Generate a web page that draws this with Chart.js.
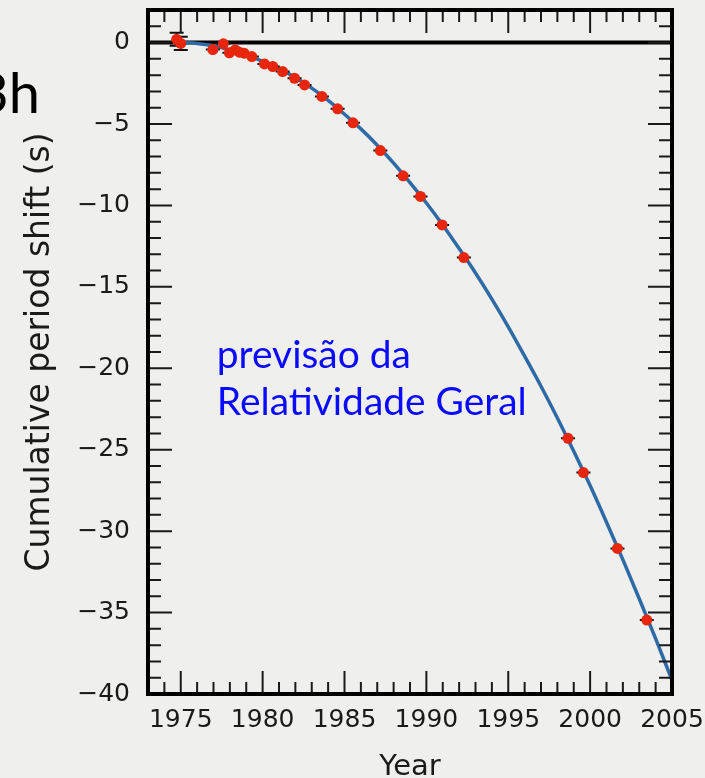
<!DOCTYPE html>
<html>
<head>
<meta charset="utf-8">
<script src="https://cdn.jsdelivr.net/npm/chart.js@4.4.1/dist/chart.umd.min.js"></script>
<style>
  html, body { margin: 0; padding: 0; background: #efefed; }
  #wrap { width: 705px; height: 778px; position: relative; }
</style>
</head>
<body>
<div id="wrap"><canvas id="myChart" width="705" height="778"></canvas></div>
<script>
// observed points (year, cumulative shift in s) and their error bars
const obsYears = [1974.75, 1975.0, 1976.96, 1977.6, 1977.97, 1978.32, 1978.58, 1978.87, 1979.34,
  1980.11, 1980.62, 1981.22, 1981.95, 1982.56, 1983.62, 1984.58, 1985.52, 1987.19,
  1988.58, 1989.64, 1990.96, 1992.29, 1998.65, 1999.59, 2001.67, 2003.46];
const obsShift = [0.2, -0.05, -0.43, -0.08, -0.63, -0.45, -0.59, -0.65, -0.86,
  -1.31, -1.47, -1.78, -2.19, -2.6, -3.31, -4.07, -4.93, -6.63,
  -8.18, -9.45, -11.2, -13.2, -24.3, -26.4, -31.06, -35.46];
const obsError = [0.4, 0.4, 0, 0, 0, 0, 0, 0, 0, 0, 0, 0, 0, 0, 0, 0, 0, 0, 0, 0, 0, 0, 0, 0, 0, 0];

// general relativity prediction curve
const curveYears = [1975, 1976, 1977, 1978, 1979, 1980, 1981, 1982, 1983, 1984, 1985, 1986, 1987,
  1988, 1989, 1990, 1991, 1992, 1993, 1994, 1995, 1996, 1997, 1998, 1999, 2000, 2001,
  2002, 2003, 2004, 2005];
const curveShift = [0, -0.05, -0.2, -0.45, -0.75, -1.15, -1.6, -2.15, -2.8, -3.55, -4.4, -5.3, -6.3,
  -7.4, -8.6, -9.85, -11.2, -12.65, -14.15, -15.75, -17.45, -19.25, -21.1, -23.05, -25.1, -27.2, -29.45,
  -31.75, -34.15, -36.6, -39.15];

const xTicks = [1975, 1980, 1985, 1990, 1995, 2000, 2005];
const yTicks = [-40, -35, -30, -25, -20, -15, -10, -5, 0];
const noteLines = ['previsão da', 'Relatividade Geral'];
const cornerText = '3h';

const ctx = document.getElementById('myChart').getContext('2d');
const axisFont = 'DejaVu Sans';
const ink = '#1a1a1a';

const framePlugin = {
  id: 'frame',
  beforeDatasetsDraw(chart) {
    const {ctx, chartArea: a, scales: {y}} = chart;
    const y0 = y.getPixelForValue(0);
    ctx.save();
    ctx.strokeStyle = '#000';
    ctx.lineWidth = 4;
    ctx.beginPath();
    ctx.moveTo(a.left, y0);
    ctx.lineTo(a.right, y0);
    ctx.stroke();
    ctx.restore();
  },
  afterDatasetDraw(chart, args) {
    if (args.index !== 0) return;
    const {ctx, scales: {x, y}} = chart;
    ctx.save();
    ctx.strokeStyle = '#111';
    ctx.lineWidth = 2;
    obsYears.forEach((yr, i) => {
      const px = x.getPixelForValue(yr);
      const top = y.getPixelForValue(obsShift[i] + obsError[i]);
      const bot = y.getPixelForValue(obsShift[i] - obsError[i]);
      ctx.beginPath();
      ctx.moveTo(px, top); ctx.lineTo(px, bot);
      ctx.moveTo(px - 7, top); ctx.lineTo(px + 7, top);
      ctx.moveTo(px - 7, bot); ctx.lineTo(px + 7, bot);
      ctx.stroke();
    });
    ctx.restore();
  },
  afterDatasetsDraw(chart) {
    const {ctx, chartArea: a, scales: {x, y}} = chart;
    ctx.save();
    ctx.strokeStyle = '#1a1a1a';
    ctx.lineWidth = 2;
    ctx.beginPath();
    for (let v = Math.ceil(x.min); v <= x.max; v++) {
      const px = x.getPixelForValue(v);
      const len = v % 5 === 0 ? 23 : 12;
      ctx.moveTo(px, a.bottom); ctx.lineTo(px, a.bottom - len);
      ctx.moveTo(px, a.top); ctx.lineTo(px, a.top + len);
    }
    for (let v = Math.ceil(y.min); v <= y.max; v++) {
      const py = y.getPixelForValue(v);
      const len = v % 5 === 0 ? 24 : 13;
      ctx.moveTo(a.left, py); ctx.lineTo(a.left + len, py);
      ctx.moveTo(a.right, py); ctx.lineTo(a.right - len, py);
    }
    ctx.stroke();
    ctx.strokeStyle = '#000';
    ctx.lineWidth = 4;
    ctx.strokeRect(a.left, a.top, a.right - a.left, a.bottom - a.top);
    ctx.restore();
  },
  afterDraw(chart) {
    const {ctx, scales: {x, y}} = chart;
    ctx.save();
    // annotation text
    ctx.fillStyle = '#0a0aff';
    ctx.textBaseline = 'alphabetic';
    ctx.textAlign = 'left';
    let size = 40;
    ctx.font = size + 'px Lato';
    const w = ctx.measureText(noteLines[1]).width;
    size = size * 310 / w;
    ctx.font = size + 'px Lato';
    const tx = x.getPixelForValue(1977.2);
    const ty = y.getPixelForValue(-20);
    noteLines.forEach((t, i) => ctx.fillText(t, tx, ty + i * 47));
    // cut-off slide text at the left edge
    ctx.fillStyle = '#000';
    ctx.font = '56px Lato';
    ctx.textAlign = 'right';
    ctx.fillText(cornerText, 40, 113);
    ctx.restore();
  }
};

const myChart = new Chart(ctx, {
  type: 'scatter',
  data: {
    datasets: [{
      label: 'GR prediction',
      data: curveYears.map((yr, i) => ({x: yr, y: curveShift[i]})),
      showLine: true,
      borderColor: '#2d6aa6',
      borderWidth: 3.5,
      pointRadius: 0,
      cubicInterpolationMode: 'monotone',
      order: 2
    }, {
      label: 'Observed',
      data: obsYears.map((yr, i) => ({x: yr, y: obsShift[i]})),
      showLine: false,
      backgroundColor: '#e8260e',
      borderWidth: 0,
      pointRadius: 5.5,
      order: 1
    }]
  },
  options: {
    responsive: false,
    animation: false,
    devicePixelRatio: 1,
    layout: {padding: {left: 0, right: 33, top: 10, bottom: 0}},
    plugins: {legend: {display: false}, tooltip: {enabled: false}},
    scales: {
      x: {
        type: 'linear',
        position: 'bottom',
        min: 1973,
        max: 2005,
        afterBuildTicks: s => { s.ticks = xTicks.map(v => ({value: v})); },
        afterFit: s => { s.height = 84; s.paddingLeft = 0; s.paddingRight = 0; },
        grid: {display: false, drawTicks: false},
        border: {display: false},
        ticks: {
          font: {family: axisFont, size: 25},
          color: ink,
          padding: 11,
          maxRotation: 0,
          autoSkip: false,
          callback: v => String(v)
        },
        title: {
          display: true,
          text: 'Year',
          font: {family: axisFont, size: 29, lineHeight: 1},
          color: ink,
          padding: {top: 0, bottom: -4}
        }
      },
      y: {
        type: 'linear',
        min: -40,
        max: 2,
        afterBuildTicks: s => { s.ticks = yTicks.map(v => ({value: v})); },
        afterFit: s => { s.width = 148; s.paddingTop = 0; s.paddingBottom = 0; },
        grid: {display: false, drawTicks: false},
        border: {display: false},
        ticks: {
          font: {family: axisFont, size: 25},
          color: ink,
          padding: 18,
          autoSkip: false,
          callback: v => v === 0 ? '0' : '\u2212' + Math.abs(v)
        },
        title: {
          display: true,
          text: 'Cumulative period shift (s)',
          font: {family: axisFont, size: 33, lineHeight: 1},
          color: ink,
          padding: {top: 24, bottom: 0}
        }
      }
    }
  },
  plugins: [framePlugin]
});
</script>
</body>
</html>
